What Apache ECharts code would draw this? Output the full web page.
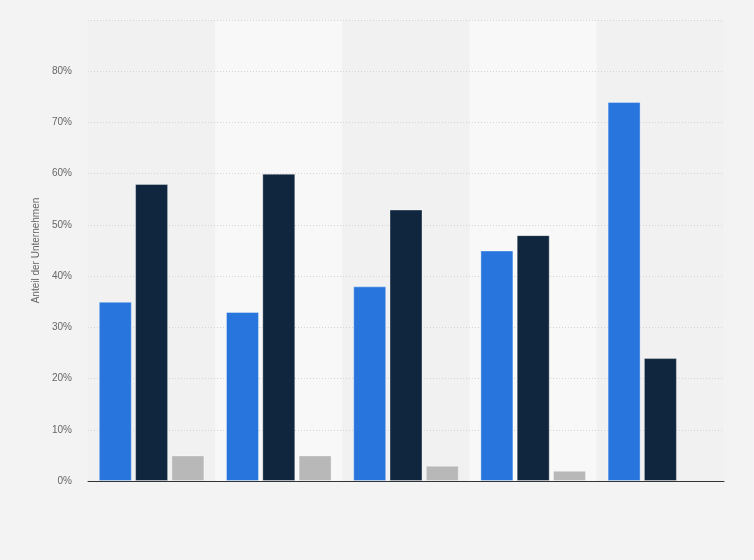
<!DOCTYPE html>
<html>
<head>
<meta charset="utf-8">
<script src="https://cdn.jsdelivr.net/npm/echarts@6/dist/echarts.min.js"></script>
<style>
html,body{margin:0;padding:0;background:#f3f3f3;}
#c{width:754px;height:560px;}
</style>
</head>
<body>
<div id="c"></div>
<script>
const categories = ['1', '2', '3', '4', '5'];
const seriesA = [35, 33, 38, 45, 74];
const seriesB = [58, 60, 53, 48, 24];
const seriesC = [5, 5, 3, 2, null];
const yTicks = [0, 10, 20, 30, 40, 50, 60, 70, 80, 90];

const chart = echarts.init(document.getElementById('c'));
const border = {borderColor: 'rgba(255,255,255,0.35)', borderWidth: 1};
chart.setOption({
  backgroundColor: '#f3f3f3',
  animation: false,
  grid: {left: 88, right: 30, top: 20, bottom: 79},
  xAxis: [{
    type: 'category',
    data: categories,
    z: 3,
    axisLine: {lineStyle: {color: '#333', width: 1}},
    axisTick: {show: false},
    axisLabel: {show: false}
  }, {
    type: 'category',
    data: categories,
    position: 'bottom',
    z: 0,
    axisLine: {show: false},
    axisTick: {show: false},
    axisLabel: {show: false},
    splitArea: {show: true, areaStyle: {color: ['#f1f1f1', '#f8f8f8']}}
  }],
  yAxis: {
    type: 'value',
    z: 1,
    min: yTicks[0],
    max: yTicks[yTicks.length - 1],
    interval: 10,
    name: 'Anteil der Unternehmen',
    nameLocation: 'middle',
    nameGap: 40,
    nameTextStyle: {color: '#666', fontSize: 10, fontFamily: 'Arial, Liberation Sans, sans-serif'},
    axisLine: {show: false},
    axisTick: {show: false},
    axisLabel: {
      color: '#666', fontSize: 10, margin: 16,
      fontFamily: 'Arial, Liberation Sans, sans-serif',
      formatter: v => v === 90 ? '' : v + '%'
    },
    splitLine: {lineStyle: {color: '#d4d4d4', type: [1, 2], width: 1}}
  },
  series: [
    {type: 'bar', z: 2, data: seriesA, barWidth: 33, barGap: '10%', itemStyle: Object.assign({color: '#2876dd'}, border)},
    {type: 'bar', z: 2, data: seriesB, barWidth: 33, barGap: '10%', itemStyle: Object.assign({color: '#10263e'}, border)},
    {type: 'bar', z: 2, data: seriesC, barWidth: 33, barGap: '10%', itemStyle: Object.assign({color: '#b8b8b8'}, border)}
  ]
});
</script>
</body>
</html>
